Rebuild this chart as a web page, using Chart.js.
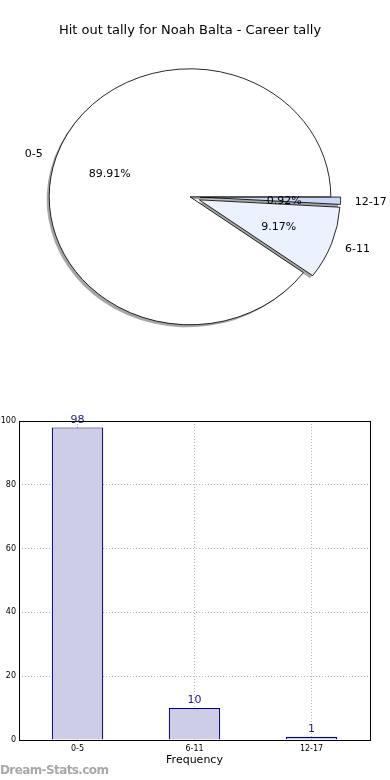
<!DOCTYPE html>
<html lang="en">
<head>
<meta charset="UTF-8">
<title>Hit out tally - Noah Balta</title>
<script src="https://cdn.jsdelivr.net/npm/chart.js"></script>
<style>
  body { margin: 0; background: #fff; width: 390px; height: 780px; position: relative; overflow: hidden; font-family: "DejaVu Sans", sans-serif; }
  #pieChart { position: absolute; left: 0; top: 0; }
  #barChart { position: absolute; left: 0; top: 400px; }
  #brand { position: absolute; left: 0; top: 763px; font-size: 12px; font-weight: bold; letter-spacing: -0.6px; color: #a8a8a8; }
</style>
</head>
<body>
<canvas id="pieChart" width="390" height="390"></canvas>
<canvas id="barChart" width="390" height="380"></canvas>
<div id="brand">Dream-Stats.com</div>
<script>
// data
const categories = ['0-5', '6-11', '12-17'];
const tally = [98, 10, 1];
const yTicks = [0, 20, 40, 60, 80, 100];

// looks
const sliceColors = ['#ffffff', '#ebf1fd', '#c7d9f6'];
const explode = [0, 0.07, 0.07];
const squash = 1.1; // pie is drawn as an ellipse, wider than tall

Chart.defaults.font.family = '"DejaVu Sans", sans-serif';
Chart.defaults.color = '#000';
Chart.defaults.animation = false;

const total = tally.reduce((a, b) => a + b, 0);

// matplotlib goes counter-clockwise from 3 o'clock, chart.js goes clockwise -> reverse
const pieLabels = categories.slice().reverse();
const pieValues = tally.slice().reverse();
const pieColors = sliceColors.slice().reverse();
const pieExplode = explode.slice().reverse();

const pieLook = {
  id: 'pieLook',
  afterDatasetsUpdate(chart) {
    chart.getDatasetMeta(0).data.forEach((arc, i) => {
      const mid = (arc.startAngle + arc.endAngle) / 2;
      arc.x += Math.cos(mid) * pieExplode[i] * arc.outerRadius;
      arc.y += Math.sin(mid) * pieExplode[i] * arc.outerRadius;
    });
  },
  beforeDatasetsDraw(chart) {
    const ctx = chart.ctx;
    const a = chart.chartArea;
    const cx = (a.left + a.right) / 2, cy = (a.top + a.bottom) / 2;
    ctx.save();
    ctx.translate(cx, cy);
    ctx.scale(squash, 1);
    ctx.translate(-cx, -cy);
    // shadows first, below every wedge
    ctx.fillStyle = 'rgba(77,77,77,0.5)';
    chart.getDatasetMeta(0).data.forEach(arc => {
      const sx = arc.x - 2.5 / squash, sy = arc.y + 2.5;
      ctx.beginPath();
      ctx.moveTo(sx, sy);
      ctx.arc(sx, sy, arc.outerRadius, arc.startAngle, arc.endAngle);
      ctx.closePath();
      ctx.fill();
    });
  },
  afterDatasetsDraw(chart) {
    chart.ctx.restore();
  },
  afterDraw(chart) {
    const ctx = chart.ctx;
    const a = chart.chartArea;
    const cx = (a.left + a.right) / 2;
    ctx.save();
    ctx.font = '11px "DejaVu Sans", sans-serif';
    ctx.fillStyle = '#000';
    ctx.textBaseline = 'middle';
    chart.getDatasetMeta(0).data.forEach((arc, i) => {
      const mid = (arc.startAngle + arc.endAngle) / 2;
      const r = arc.outerRadius;
      const lx = cx + (arc.x + Math.cos(mid) * r * 1.1 - cx) * squash;
      const ly = arc.y + Math.sin(mid) * r * 1.1 + 1.5;
      ctx.textAlign = Math.cos(mid) < 0 ? 'right' : 'left';
      ctx.fillText(pieLabels[i], lx, ly);
      const px = cx + (arc.x + Math.cos(mid) * r * 0.6 - cx) * squash;
      const py = arc.y + Math.sin(mid) * r * 0.6 + 1.5;
      ctx.textAlign = 'center';
      ctx.fillText((pieValues[i] / total * 100).toFixed(2) + '%', px, py);
    });
    ctx.restore();
  }
};

new Chart('pieChart', {
  type: 'pie',
  data: {
    labels: pieLabels,
    datasets: [{
      data: pieValues,
      backgroundColor: pieColors,
      borderColor: '#000',
      borderWidth: 0.8,
      clip: false
    }]
  },
  options: {
    responsive: false,
    rotation: 90,
    radius: 128,
    layout: { padding: { left: 0, right: 10, top: 0, bottom: 44 } },
    plugins: {
      legend: { display: false },
      tooltip: { enabled: false },
      title: {
        display: true,
        text: 'Hit out tally for Noah Balta - Career tally',
        color: '#000',
        font: { size: 13, weight: 'normal' },
        padding: { top: 23, bottom: 9 }
      }
    }
  },
  plugins: [pieLook]
});

// bar chart extras: value labels + box frame
const barLook = {
  id: 'barLook',
  afterDatasetsDraw(chart) {
    const ctx = chart.ctx;
    ctx.save();
    ctx.font = '11px "DejaVu Sans", sans-serif';
    ctx.fillStyle = '#1c1c8c';
    ctx.textAlign = 'center';
    ctx.textBaseline = 'bottom';
    chart.getDatasetMeta(0).data.forEach((bar, i) => {
      ctx.fillText(tally[i], bar.x, bar.y - 2);
    });
    ctx.restore();
  },
  afterDraw(chart) {
    const a = chart.chartArea;
    const ctx = chart.ctx;
    ctx.save();
    ctx.strokeStyle = '#000';
    ctx.lineWidth = 1;
    ctx.strokeRect(Math.round(a.left) + 0.5, Math.round(a.top) + 0.5, Math.round(a.right - a.left), Math.round(a.bottom - a.top));
    ctx.restore();
  }
};

new Chart('barChart', {
  type: 'bar',
  data: {
    labels: categories,
    datasets: [{
      data: tally,
      backgroundColor: '#cdcde6',
      borderColor: '#000080',
      borderWidth: 1.2,
      barPercentage: 0.44,
      categoryPercentage: 1
    }]
  },
  options: {
    responsive: false,
    layout: { padding: { top: 21, right: 20, bottom: 9, left: 0 } },
    plugins: { legend: { display: false }, tooltip: { enabled: false } },
    scales: {
      x: {
        z: 1,
        grid: { offset: false, color: '#b5b5b5', lineWidth: 1, drawTicks: false },
        border: { display: false, dash: [1, 2] },
        ticks: { font: { size: 8 }, padding: 4, color: '#000' },
        title: { display: true, text: 'Frequency', font: { size: 11 }, color: '#000', padding: { top: 4, bottom: 4 } },
        afterFit(scale) { scale.height = 31; }
      },
      y: {
        z: 1,
        min: 0,
        max: 100,
        afterBuildTicks(scale) { scale.ticks = yTicks.map(v => ({ value: v })); },
        grid: { color: '#b5b5b5', lineWidth: 1, drawTicks: false },
        border: { display: false, dash: [1, 2] },
        ticks: { font: { size: 8 }, padding: 3, color: '#000' },
        afterFit(scale) { scale.width = 19; }
      }
    }
  },
  plugins: [barLook]
});
</script>
</body>
</html>
